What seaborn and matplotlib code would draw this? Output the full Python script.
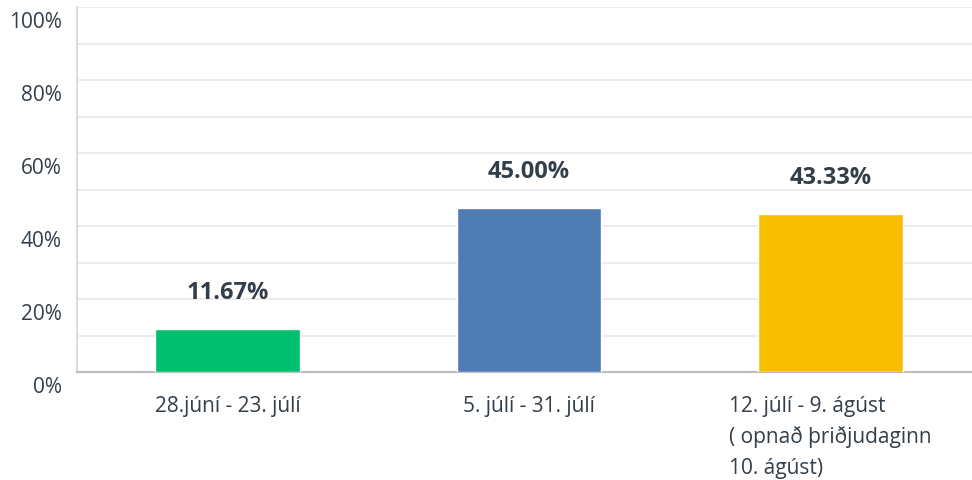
import seaborn as sns
import matplotlib.pyplot as plt
import matplotlib.transforms as mtransforms
import pandas as pd

# data
categories = ["28.júní - 23. júlí",
              "5. júlí - 31. júlí",
              "12. júlí - 9. ágúst\n( opnað þriðjudaginn\n10. ágúst)"]
percent = [11.67, 45.00, 43.33]
bar_colors = ["#00BF6F", "#507CB6", "#F9BE00"]
ytick_values = [0, 20, 40, 60, 80, 100]

df = pd.DataFrame({"period": categories, "pct": percent})

sns.set_theme(style="white")
plt.rcParams["font.family"] = ["Open Sans", "DejaVu Sans"]
text_color = "#333E48"

fig = plt.figure(figsize=(9.72, 4.8), dpi=100)
ax = fig.add_axes([77 / 972, 108 / 480, 1 - 77 / 972, 365 / 480])

sns.barplot(data=df, x="period", y="pct", hue="period", palette=bar_colors,
            legend=False, width=0.48, saturation=1, ax=ax, zorder=3)

ax.set_ylim(0, 100)
ax.set_xlim(-0.5, 2.47)
ax.set_yticks(ytick_values)
ax.set_yticks(range(10, 100, 20), minor=True)
ax.set_yticklabels([f"{v}%" for v in ytick_values])
ax.grid(axis="y", which="both", color="#EDEDED", linewidth=1.5, zorder=0)
ax.set_axisbelow(True)

ax.set_xlabel("")
ax.set_ylabel("")
ax.tick_params(axis="both", which="both", length=0, colors=text_color,
               labelsize=15)
ax.tick_params(axis="x", pad=17)
ax.tick_params(axis="y", pad=11)
for lab in ax.get_xticklabels():
    lab.set_linespacing(1.58)
    lab.set_multialignment("left")
# y labels sit a little below their grid lines in the original
offset = mtransforms.ScaledTranslation(0, -13 / 100, fig.dpi_scale_trans)
for lab in ax.get_yticklabels():
    lab.set_transform(lab.get_transform() + offset)

for s in ["top", "right"]:
    ax.spines[s].set_visible(False)
ax.spines["left"].set_color("#D6D6D6")
ax.spines["bottom"].set_color("#BDBDBD")
ax.spines["bottom"].set_linewidth(1.5)

for i, v in enumerate(percent):
    ax.annotate(f"{v:.2f}%", (i, v), xytext=(0, 36), textcoords="offset pixels",
                ha="center", va="center", fontsize=17, fontweight="bold",
                color=text_color)

fig.savefig("out.png", dpi=100)
